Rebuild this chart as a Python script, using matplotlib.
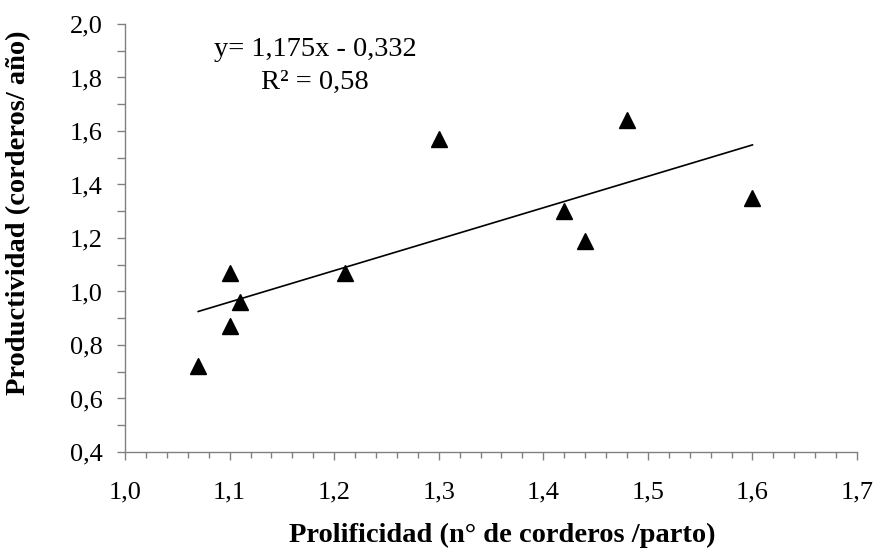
import matplotlib
matplotlib.use("Agg")
import matplotlib.pyplot as plt
import numpy as np
from matplotlib.ticker import MultipleLocator, FuncFormatter

plt.rcParams['font.family'] = ['Liberation Serif', 'DejaVu Serif']

# Prolificacy vs. productivity observations
prolificidad = [1.07, 1.10, 1.10, 1.11, 1.21, 1.30, 1.42, 1.44, 1.48, 1.60]
productividad = [0.72, 0.87, 1.07, 0.96, 1.07, 1.57, 1.30, 1.19, 1.64, 1.35]

# Linear fit reported on the chart
pendiente = 1.175
intercepto = -0.332
r2 = 0.58

fig = plt.figure(figsize=(8.78, 5.49), dpi=100)
ax = fig.add_axes([0.1424, 0.1767, 0.8337, 0.7796])

ax.plot(prolificidad, productividad, linestyle='none', marker='^',
        markersize=12, color='black', zorder=3)

xs = np.array([min(prolificidad), max(prolificidad)])
ax.plot(xs, pendiente * xs + intercepto, color='black', linewidth=1.2, zorder=2)

ax.set_xlim(1.0, 1.7)
ax.set_ylim(0.4, 2.0)
ax.xaxis.set_major_locator(MultipleLocator(0.1))
ax.xaxis.set_minor_locator(MultipleLocator(0.02))
ax.yaxis.set_major_locator(MultipleLocator(0.2))
ax.yaxis.set_minor_locator(MultipleLocator(0.1))

coma = FuncFormatter(lambda v, p: f"{v:.1f}".replace('.', ','))
ax.xaxis.set_major_formatter(coma)
ax.yaxis.set_major_formatter(coma)

for side in ('top', 'right'):
    ax.spines[side].set_visible(False)
for side in ('left', 'bottom'):
    ax.spines[side].set_color('#808080')
    ax.spines[side].set_linewidth(1.0)

ax.tick_params(which='both', direction='out', color='#808080', width=1.0)
ax.tick_params(axis='x', which='major', length=6, pad=15, labelsize=19)
ax.tick_params(axis='x', which='minor', length=4)
ax.tick_params(axis='y', which='major', length=6, pad=10, labelsize=19)
ax.tick_params(axis='y', which='minor', length=6)

ax.set_xlabel('Prolificidad (n° de corderos /parto)', fontsize=20.5,
              fontweight='bold', va='center')
ax.xaxis.set_label_coords(0.516, -0.194)
ax.set_ylabel('Productividad (corderos/ año)', fontsize=20.5,
              fontweight='bold', va='center')
ax.yaxis.set_label_coords(-0.146, 0.558)

ax.text(1.182, 1.903, 'y= 1,175x - 0,332', ha='center', va='center', fontsize=20.5)
ax.text(1.182, 1.783, 'R² = 0,58', ha='center', va='center', fontsize=20.5)

fig.savefig('out.png', dpi=100)
